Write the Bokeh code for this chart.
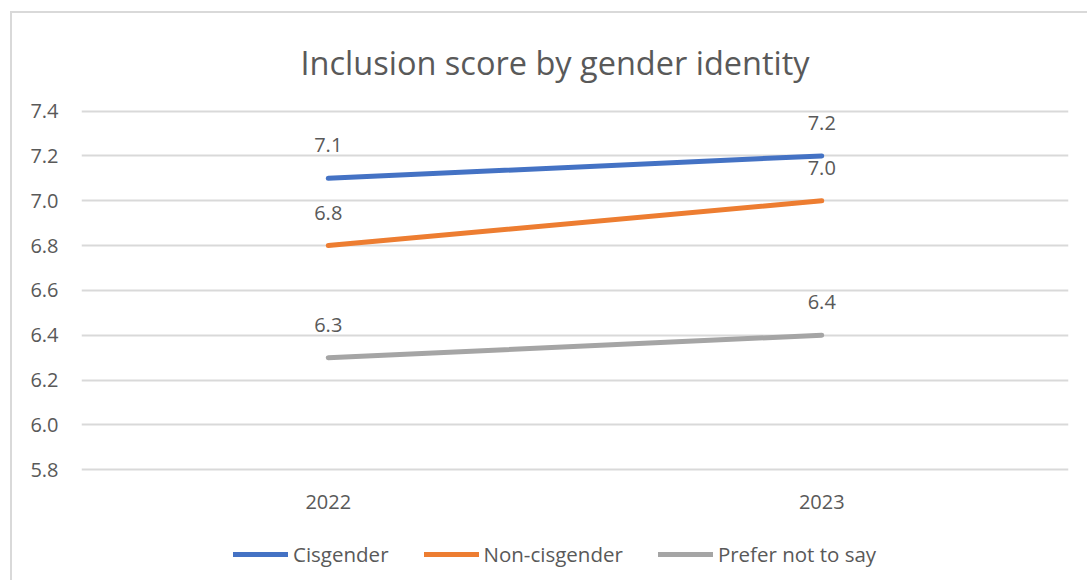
from bokeh.plotting import figure
from bokeh.models import (ColumnDataSource, FixedTicker, PrintfTickFormatter,
                          Legend, LegendItem, InlineStyleSheet)
from bokeh.embed import file_html
from bokeh.resources import INLINE
from bokeh.core.properties import value

# Survey results: mean inclusion score per year
years = ["2022", "2023"]
cisgender = [7.1, 7.2]
non_cisgender = [6.8, 7.0]
prefer_not = [6.3, 6.4]
series_names = ["Cisgender", "Non-cisgender", "Prefer not to say"]
series_values = [cisgender, non_cisgender, prefer_not]
series_colors = ["#4472C4", "#ED7D31", "#A5A5A5"]
y_ticks = [5.8, 6.0, 6.2, 6.4, 6.6, 6.8, 7.0, 7.2, 7.4]

FONT = "Open Sans"
TEXT = "#595959"
GRID = "#D9D9D9"

# The plotting frame runs down to the bottom edge so the category labels
# and the legend can sit under the lowest gridline inside it.
p = figure(
    x_range=years, y_range=(5.297, 7.407),
    width=1077, height=569,
    output_backend="svg", toolbar_location=None,
    min_border_left=69, min_border_right=21,
    min_border_top=95, min_border_bottom=0,
    background_fill_color="white", border_fill_color="white",
    outline_line_color=None,
)
p.margin = (11, 0, 0, 10)
p.stylesheets = [InlineStyleSheet(
    css=":host { border-left: 2px solid #D9D9D9; border-top: 2px solid #D9D9D9; }")]
p.x_range.range_padding = 0

p.title.text = "Inclusion score by gender identity"
p.title.align = "left"
p.title.offset = 219
p.title.standoff = 49
p.title.text_font = FONT
p.title.text_font_size = "32.5px"
p.title.text_font_style = "normal"
p.title.text_color = TEXT

# y axis: labels only
yax = p.yaxis[0]
yax.axis_line_color = None
yax.major_tick_line_color = None
yax.minor_tick_line_color = None
yax.major_tick_out = 0
yax.major_tick_in = 0
yax.major_label_text_font = FONT
yax.major_label_text_font_size = "20px"
yax.major_label_text_color = TEXT
yax.ticker = FixedTicker(ticks=y_ticks)
yax.formatter = PrintfTickFormatter(format="%.1f")
yax.major_label_standoff = 23
p.xaxis.visible = False

p.xgrid.grid_line_color = None
p.ygrid.ticker = FixedTicker(ticks=y_ticks)
p.ygrid.grid_line_color = GRID
p.ygrid.grid_line_width = 2

# category labels under the lowest gridline
cat_src = ColumnDataSource(dict(x=years, y=[y_ticks[0]] * len(years), t=years))
p.text("x", "y", text="t", source=cat_src, text_align="center",
       text_baseline="middle", y_offset=32,
       text_font=value(FONT), text_font_size="20px", text_color=TEXT)

items = []
for name, vals, color in zip(series_names, series_values, series_colors):
    src = ColumnDataSource(dict(x=years, y=vals, lbl=["%.1f" % v for v in vals]))
    r = p.line("x", "y", source=src, line_color=color, line_width=5, line_cap="round")
    p.text("x", "y", text="lbl", source=src, text_align="center",
           text_baseline="alphabetic", y_offset=-33,
           text_font=value(FONT), text_font_size="20px", text_color=TEXT)
    items.append(LegendItem(label=name, renderers=[r]))

legend = Legend(items=items, orientation="horizontal", location=(152, 14),
                label_text_font=FONT, label_text_font_size="20.5px",
                label_text_color=TEXT, glyph_width=55, glyph_height=20,
                label_standoff=5, spacing=35, border_line_color=None,
                background_fill_alpha=0, padding=0, margin=0)
p.add_layout(legend)

open("out.html", "w").write(file_html(p, INLINE))
